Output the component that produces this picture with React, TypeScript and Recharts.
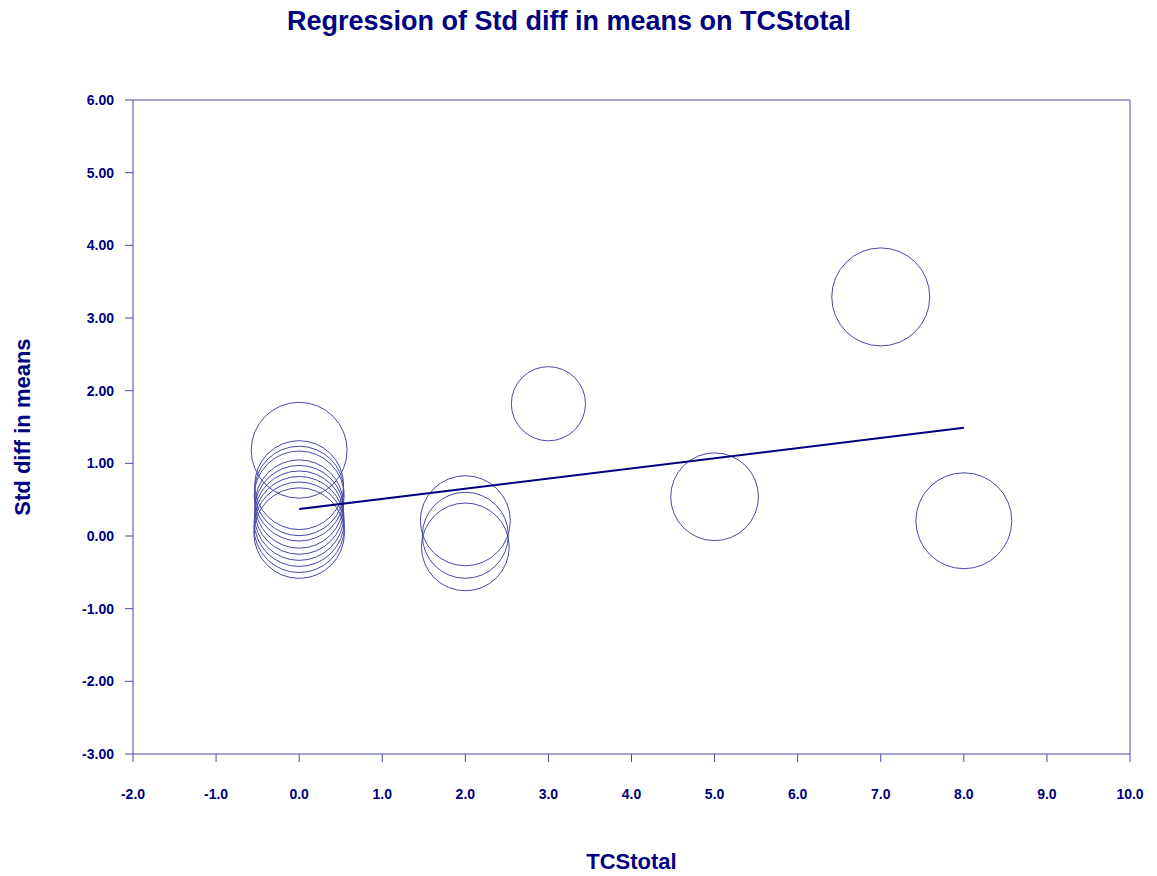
import { ReferenceLine, Scatter, ScatterChart, XAxis, YAxis, ZAxis } from "recharts";

const NAVY = "#000080";
const AXIS = "#4a4aa0";
const RING = "#4848a8";

// studies: TCStotal (x), std diff in means (y), relative weight (w)
const studyX = [0, 0, 0, 0, 0, 0, 0, 0, 0, 0, 2, 2, 2, 3, 5, 7, 8];
const studyY = [1.18, 0.7, 0.62, 0.55, 0.44, 0.36, 0.28, 0.2, 0.12, 0.04, 0.21, 0.01, -0.15, 1.82, 0.54, 3.29, 0.21];
const studyW = [9.2, 7.9, 8.0, 8.1, 7.8, 7.9, 8.0, 8.1, 8.2, 8.2, 8.1, 7.4, 7.7, 5.5, 7.7, 9.6, 9.2];

// fitted regression line
const regX = [0, 8];
const regY = [0.37, 1.49];

const xTicks = [-2, -1, 0, 1, 2, 3, 4, 5, 6, 7, 8, 9, 10];
const yTicks = [-3, -2, -1, 0, 1, 2, 3, 4, 5, 6];

const studies = studyX.map((x, i) => ({ x, y: studyY[i], w: studyW[i] }));
const regression = regX.map((x, i) => ({ x, y: regY[i], w: 0 }));

const font = "'Liberation Sans', Arial, sans-serif";

export default function App() {
  return (
    <div style={{ position: "absolute", left: 0, top: 0, width: 1157, height: 876, background: "#fff", fontFamily: font }}>
      <div
        style={{
          position: "absolute",
          top: 6,
          left: 0,
          width: 1138,
          textAlign: "center",
          color: NAVY,
          fontWeight: "bold",
          fontSize: 27,
          lineHeight: "31px",
        }}
      >
        Regression of Std diff in means on TCStotal
      </div>
      <ScatterChart width={1157} height={876} margin={{ top: 100, right: 27, bottom: 0, left: 0 }}>
        <XAxis
          type="number"
          dataKey="x"
          domain={[-2, 10]}
          ticks={xTicks}
          allowDataOverflow
          height={122}
          stroke={AXIS}
          tickSize={8}
          tickMargin={27}
          tick={{ fill: NAVY, fontSize: 14, fontWeight: "bold", fontFamily: font }}
          tickFormatter={(v) => Number(v).toFixed(1)}
          label={{
            content: ({ viewBox }: any) => (
              <text
                x={viewBox.x + viewBox.width / 2}
                y={viewBox.y + 107}
                textAnchor="middle"
                dominantBaseline="central"
                fill={NAVY}
                fontSize={22}
                fontWeight="bold"
                fontFamily={font}
              >
                TCStotal
              </text>
            ),
          }}
        />
        <YAxis
          type="number"
          dataKey="y"
          domain={[-3, 6]}
          ticks={yTicks}
          allowDataOverflow
          width={133}
          stroke={AXIS}
          tickSize={8}
          tickMargin={11}
          tick={{ fill: NAVY, fontSize: 14, fontWeight: "bold", fontFamily: font }}
          tickFormatter={(v) => Number(v).toFixed(2)}
          label={{
            content: ({ viewBox }: any) => {
              const cx = viewBox.x + 22;
              const cy = viewBox.y + viewBox.height / 2;
              return (
                <text
                  x={cx}
                  y={cy}
                  transform={`rotate(-90, ${cx}, ${cy})`}
                  textAnchor="middle"
                  dominantBaseline="central"
                  fill={NAVY}
                  fontSize={22}
                  fontWeight="bold"
                  fontFamily={font}
                >
                  Std diff in means
                </text>
              );
            },
          }}
        />
        <ZAxis type="number" dataKey="w" domain={[0, 10]} range={[0, Math.PI * 50 * 50]} />
        <ReferenceLine y={6} stroke={AXIS} />
        <ReferenceLine x={10} stroke={AXIS} />
        <Scatter
          data={studies}
          fill="none"
          stroke={RING}
          strokeWidth={1}
          isAnimationActive={false}
        />
        <Scatter
          data={regression}
          line={{ stroke: NAVY, strokeWidth: 2 }}
          shape={() => <g />}
          isAnimationActive={false}
        />
      </ScatterChart>
    </div>
  );
}
